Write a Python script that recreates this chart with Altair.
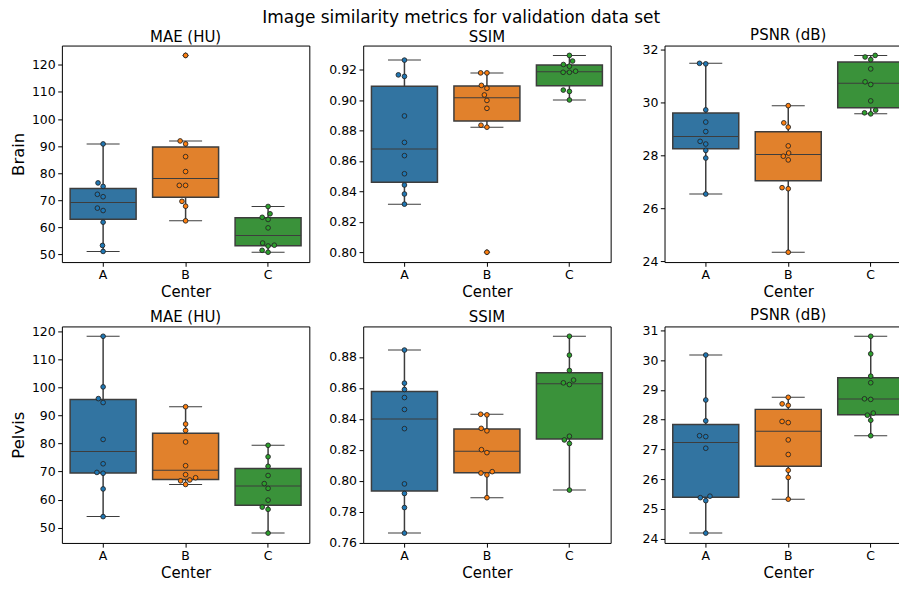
import altair as alt
import numpy as np
import pandas as pd

# ---------------- data ----------------
centers = ["A", "B", "C"]
regions = ["Brain", "Pelvis"]
metric_titles = ["MAE (HU)", "SSIM", "PSNR (dB)"]
suptitle = "Image similarity metrics for validation data set"
x_title = "Center"

brain_mae_A = [90.8, 76.4, 75.1, 72.2, 71.3, 67.1, 66.2, 61.9, 53.3, 51.1]
brain_mae_B = [123.5, 91.9, 90.8, 86.1, 80.6, 75.5, 75.5, 69.6, 67.8, 62.4]
brain_mae_C = [67.7, 65.0, 63.7, 62.9, 59.8, 54.2, 53.4, 53.1, 51.5, 50.8]

brain_ssim_A = [0.9263, 0.9166, 0.9156, 0.8896, 0.8722, 0.8635, 0.8516, 0.8442, 0.8383, 0.8316]
brain_ssim_B = [0.9179, 0.9179, 0.9097, 0.9078, 0.9034, 0.8998, 0.8946, 0.8835, 0.8822, 0.8000]
brain_ssim_C = [0.9294, 0.9257, 0.9234, 0.9223, 0.9190, 0.9183, 0.9183, 0.9066, 0.9057, 0.9001]

brain_psnr_A = [31.49, 31.47, 29.73, 29.27, 28.91, 28.54, 28.44, 28.20, 27.91, 26.55]
brain_psnr_B = [29.89, 29.24, 29.08, 28.37, 28.10, 27.98, 27.84, 26.79, 26.75, 24.35]
brain_psnr_C = [31.79, 31.73, 31.63, 31.28, 30.79, 30.69, 30.07, 29.72, 29.62, 29.58]

pelvis_mae_A = [118.4, 100.3, 96.1, 94.7, 81.5, 72.8, 69.7, 69.4, 63.8, 53.9]
pelvis_mae_B = [93.2, 87.0, 84.7, 80.6, 72.1, 68.9, 67.8, 67.0, 66.7, 65.4]
pelvis_mae_C = [79.4, 75.3, 71.9, 68.6, 65.7, 64.0, 59.8, 57.3, 56.5, 48.0]

pelvis_ssim_A = [0.8845, 0.8631, 0.8590, 0.8538, 0.8461, 0.8337, 0.7980, 0.7918, 0.7827, 0.7662]
pelvis_ssim_B = [0.8430, 0.8426, 0.8339, 0.8323, 0.8201, 0.8182, 0.8059, 0.8050, 0.8038, 0.7891]
pelvis_ssim_C = [0.8934, 0.8812, 0.8713, 0.8651, 0.8633, 0.8622, 0.8288, 0.8264, 0.8241, 0.7940]

pelvis_psnr_A = [30.17, 28.66, 27.96, 27.46, 27.43, 27.04, 25.43, 25.38, 25.28, 24.19]
pelvis_psnr_B = [28.75, 28.53, 28.48, 27.94, 27.90, 27.32, 26.83, 26.30, 26.06, 25.33]
pelvis_psnr_C = [30.80, 30.21, 29.46, 29.24, 28.70, 28.68, 28.22, 28.15, 27.98, 27.46]

mae_ticks = [50, 60, 70, 80, 90, 100, 110, 120]
brain_ssim_ticks = [0.80, 0.82, 0.84, 0.86, 0.88, 0.90, 0.92]
pelvis_ssim_ticks = [0.76, 0.78, 0.80, 0.82, 0.84, 0.86, 0.88]
brain_psnr_ticks = [24, 26, 28, 30, 32]
pelvis_psnr_ticks = [24, 25, 26, 27, 28, 29, 30, 31]

# ---------------- style ----------------
FONT = "DejaVu Sans"
W, H = 248, 217
BW = W / 3.0
BOX_W = 0.8 * BW
BOX_COLORS = ["#3274a1", "#e1812c", "#3a923a"]
PT_COLORS = ["#1f77b4", "#ff7f0e", "#2ca02c"]
EDGE = "#3d3d3d"
D = 6.0  # swarm collision diameter in px


def swarm(ypx, d):
    """Beeswarm offsets (px) in the manner of seaborn's swarmplot."""
    order = np.argsort(ypx, kind="stable")
    placed = []
    offs = np.zeros(len(ypx))
    for i in order:
        y = ypx[i]
        neigh = [(x0, y0) for (x0, y0) in placed if abs(y - y0) < d]
        cands = [0.0]
        left_first = True
        for (x0, y0) in neigh:
            dx = np.sqrt(max(d * d - (y - y0) ** 2, 0)) * 1.05
            pair = [x0 - dx, x0 + dx] if left_first else [x0 + dx, x0 - dx]
            cands.extend(pair)
            left_first = not left_first
        cands = sorted(cands, key=lambda c: abs(c))
        chosen = cands[-1]
        for c in cands:
            if all((c - x0) ** 2 + (y - y0) ** 2 >= d * d - 1e-6 for (x0, y0) in neigh):
                chosen = c
                break
        offs[i] = chosen
        placed.append((chosen, y))
    return offs


def make_panel(region, metric, groups, ticks, fmt, first_col):
    allv = np.concatenate([np.asarray(g, float) for g in groups])
    lo, hi = allv.min(), allv.max()
    m = 0.05 * (hi - lo)
    dom = [lo - m, hi + m]
    ppu = H / (dom[1] - dom[0])
    rows = []
    for ci, (c, g) in enumerate(zip(centers, groups)):
        g = np.asarray(g, float)
        offs = swarm(g * ppu, D)
        for v, o in zip(g, offs):
            rows.append({"center": c, "value": v, "xpos": ci + o / BW})
    df = pd.DataFrame(rows)

    yscale = alt.Scale(domain=dom, nice=False, zero=False)
    yaxis_kw = dict(values=ticks, format=fmt, titlePadding=5, titleFontSize=16.5)
    if first_col:
        yaxis = alt.Axis(title=region, **yaxis_kw)
    else:
        yaxis = alt.Axis(title=None, **yaxis_kw)

    box = alt.Chart(df).mark_boxplot(
        extent=1.5,
        size=BOX_W,
        opacity=1,
        box={"stroke": EDGE, "strokeWidth": 1.5},
        median={"color": EDGE, "strokeWidth": 1.5},
        rule={"color": EDGE, "strokeWidth": 1.5},
        ticks={"color": EDGE, "size": BOX_W / 2, "strokeWidth": 1.5},
        outliers={"shape": "diamond", "size": 30, "filled": True, "stroke": EDGE, "strokeWidth": 1},
    ).encode(
        x=alt.X("center:N", scale=alt.Scale(domain=centers, paddingInner=0, paddingOuter=0),
                axis=alt.Axis(title=x_title, labelAngle=0, titlePadding=3)),
        y=alt.Y("value:Q", scale=yscale, axis=yaxis),
        color=alt.Color("center:N", scale=alt.Scale(domain=centers, range=BOX_COLORS), legend=None),
    )

    pts = alt.Chart(df).mark_circle(size=22, opacity=1, stroke="#262626", strokeWidth=0.9).encode(
        x=alt.X("xpos:Q", scale=alt.Scale(domain=[-0.5, 2.5], nice=False, zero=False), axis=None),
        y=alt.Y("value:Q", scale=yscale, axis=yaxis),
        fill=alt.Fill("center:N", scale=alt.Scale(domain=centers, range=PT_COLORS), legend=None),
    )

    return alt.layer(box, pts).resolve_scale(x="independent").properties(
        width=W, height=H,
        title=alt.TitleParams(metric, font=FONT, fontSize=15, fontWeight="normal", color="black", offset=1),
    )


panels = [
    make_panel("Brain", metric_titles[0], [brain_mae_A, brain_mae_B, brain_mae_C], mae_ticks, "d", True),
    make_panel("Brain", metric_titles[1], [brain_ssim_A, brain_ssim_B, brain_ssim_C], brain_ssim_ticks, ".2f", False),
    make_panel("Brain", metric_titles[2], [brain_psnr_A, brain_psnr_B, brain_psnr_C], brain_psnr_ticks, "d", False),
    make_panel("Pelvis", metric_titles[0], [pelvis_mae_A, pelvis_mae_B, pelvis_mae_C], mae_ticks, "d", True),
    make_panel("Pelvis", metric_titles[1], [pelvis_ssim_A, pelvis_ssim_B, pelvis_ssim_C], pelvis_ssim_ticks, ".2f", False),
    make_panel("Pelvis", metric_titles[2], [pelvis_psnr_A, pelvis_psnr_B, pelvis_psnr_C], pelvis_psnr_ticks, "d", False),
]

chart = alt.concat(
    *panels, columns=3, spacing={"row": 64.5, "column": 54}, bounds="flush"
).resolve_scale(y="independent", color="independent", fill="independent").properties(
    title=alt.TitleParams(suptitle, font=FONT, fontSize=17, fontWeight="normal", color="black",
                          anchor="middle", frame="bounds", offset=0),
    padding={"left": 1, "top": 0, "right": -14, "bottom": 0},
).configure_view(
    stroke="black", strokeWidth=1
).configure_axis(
    domain=False, grid=False, tickColor="black", tickSize=4.2, tickWidth=1,
    labelPadding=2.5, labelFont=FONT, labelFontSize=12.5, labelColor="black",
    titleFont=FONT, titleFontSize=15, titleFontWeight="normal", titleColor="black",
)

chart.save("out.html", embed_options={"renderer": "svg", "actions": False})
